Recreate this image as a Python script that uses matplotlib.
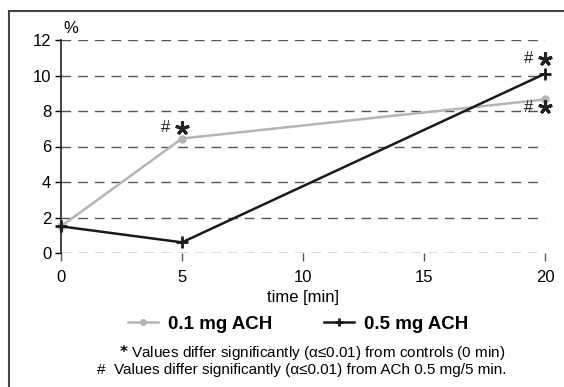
import numpy as np
import matplotlib.pyplot as plt
from matplotlib.patches import Rectangle
from matplotlib.transforms import offset_copy

plt.rcParams['font.family'] = ['Liberation Sans', 'DejaVu Sans']

time_min = [0, 5, 20]
ach_01 = [1.5, 6.45, 8.65]
ach_05 = [1.5, 0.6, 10.1]
yticks = [0, 2, 4, 6, 8, 10, 12]
xticks = [0, 5, 10, 15, 20]

W, H = 564, 387
fig = plt.figure(figsize=(W / 100, H / 100), dpi=100)
ax = fig.add_axes([61 / W, 1 - 253 / H, (545 - 61) / W, (253 - 40) / H])

# outer frame (only top and left edges are visible)
fig.patches.append(Rectangle((9 / W, -0.1), 1.2, 1 - 11 / H + 0.1,
                             transform=fig.transFigure, fill=False,
                             edgecolor='#444444', lw=1.5))

for v in yticks:
    ax.axhline(v, color='#555555', lw=1, ls=(0, (7, 5)), zorder=1)

ax.plot(time_min, ach_01, color='#b4b4b4', lw=1.8, marker='o', ms=5,
        label='0.1 mg ACH', clip_on=False, zorder=3)
ax.plot(time_min, ach_05, color='#1a1a1a', lw=1.8, marker='+', ms=8, mew=2,
        label='0.5 mg ACH', clip_on=False, zorder=4)

ax.set_xlim(0, 20)
ax.set_ylim(0, 12)
ax.set_yticks(yticks)
ax.set_xticks(xticks)
for s in ['top', 'right', 'bottom']:
    ax.spines[s].set_visible(False)
ax.spines['left'].set_color('#222222')
ax.spines['left'].set_linewidth(1.2)
ax.tick_params(axis='y', length=4, width=1, labelsize=12, pad=3)
ax.tick_params(axis='x', length=6, width=1, color='#555555', labelsize=12, pad=6)
ax.set_xlabel('time [min]', fontsize=12, labelpad=4)
ax.text(0.1, 12.25, '%', fontsize=12, ha='left', va='bottom')

# significance marks: '#' and a 5-armed asterisk, offset in pixels
def mark(x, y, dy):
    tr = offset_copy(ax.transData, fig=fig, x=0, y=dy, units='dots')
    ax.plot([x], [y], transform=tr, marker=(5, 2, 0), ms=10, mew=2.2,
            color='#222222', clip_on=False, zorder=5)
    ax.text(x, y, '#', transform=offset_copy(ax.transData, fig=fig, x=-16,
            y=dy, units='dots'), ha='center', va='center', fontsize=12,
            color='#222222')

mark(time_min[1], ach_01[1], 11)
mark(time_min[2], ach_05[2], 15)
mark(time_min[2], ach_01[2], -8)

leg = fig.legend(loc='center', bbox_to_anchor=(298 / W, 1 - 324 / H), ncol=2,
                 frameon=False, handlelength=1.6, columnspacing=2.8,
                 handletextpad=0.5, markerscale=0.8,
                 prop={'size': 13.5, 'weight': 'bold'})

fig.text(312 / W, 1 - 352 / H,
         '$\\bf{*}$ Values differ significantly (\u03b1\u22640.01) from controls (0 min)',
         ha='center', va='center', fontsize=11)
fig.text(302 / W, 1 - 370 / H,
         '#  Values differ significantly (\u03b1\u22640.01) from ACh 0.5 mg/5 min.',
         ha='center', va='center', fontsize=11)

fig.savefig('out.png', dpi=100)
